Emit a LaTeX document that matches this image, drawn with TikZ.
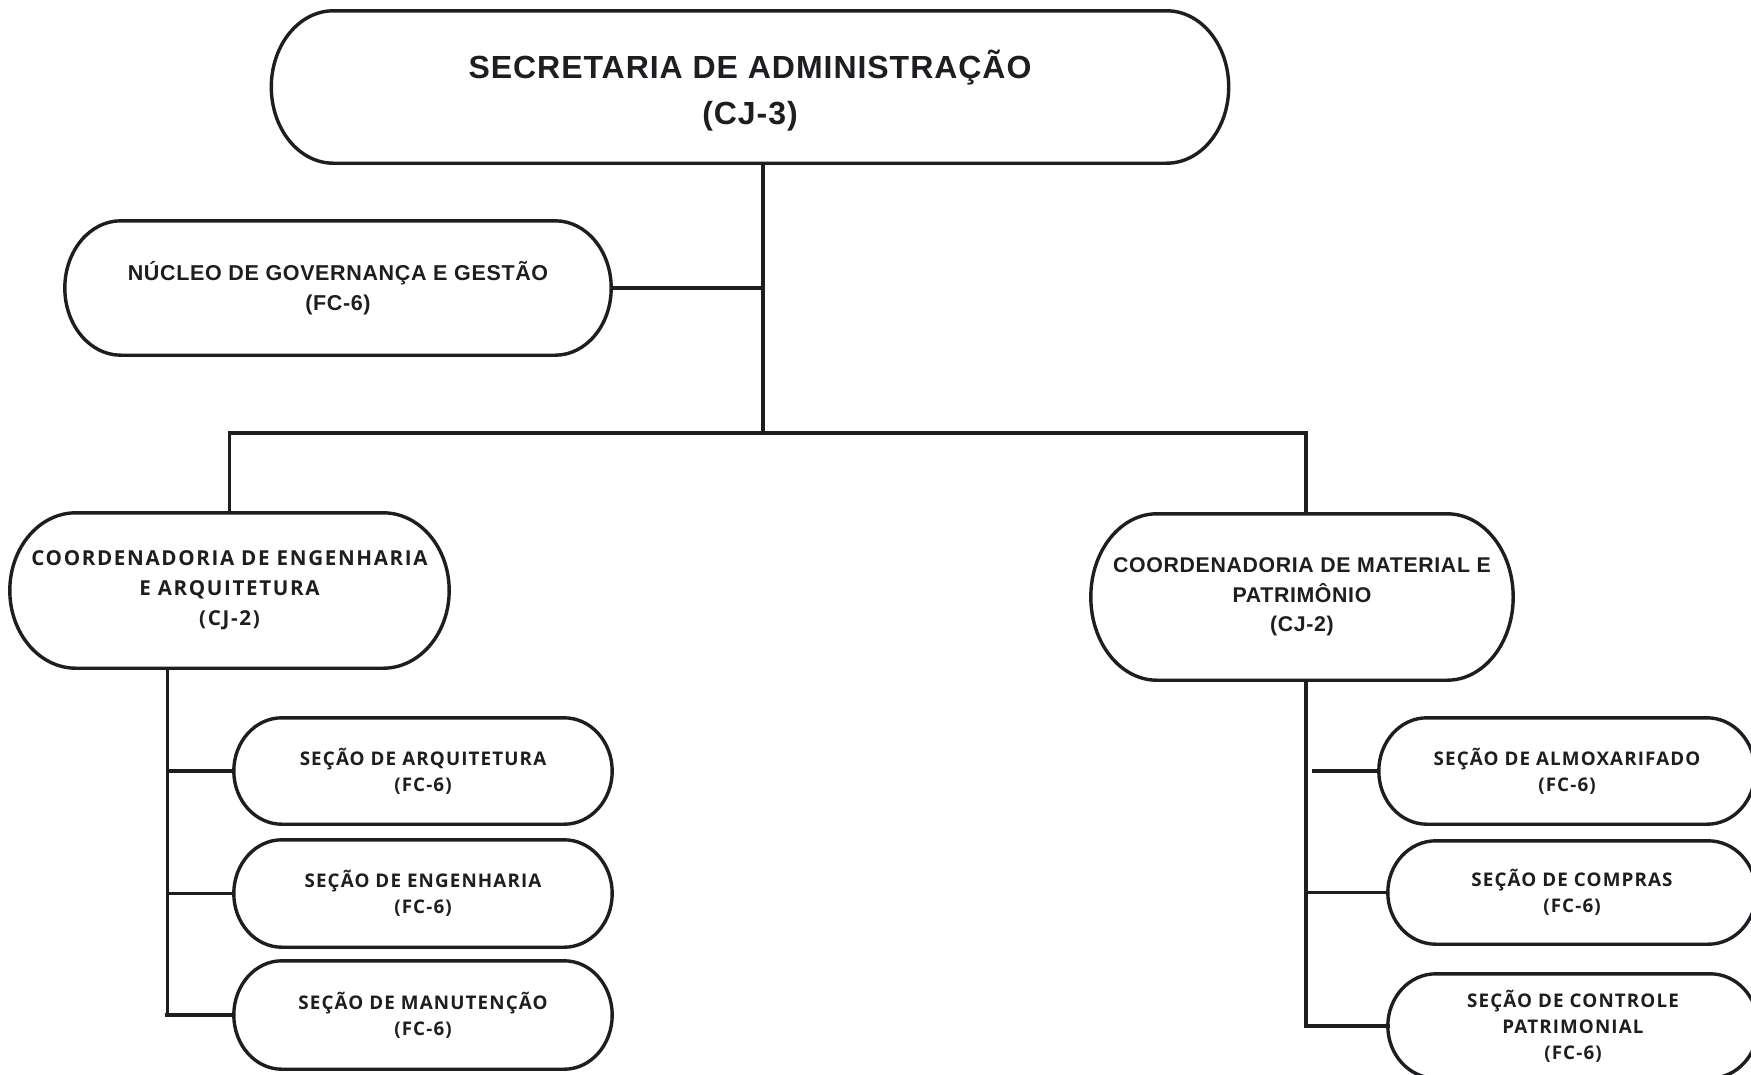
\documentclass[tikz,border=0pt]{standalone}
\usepackage{fontspec}
\setmainfont{Open Sans}
\newfontfamily\wideb[LetterSpace=8]{Open Sans}
\newfontfamily\secb[LetterSpace=6]{Open Sans}
\newfontfamily\narrowb[LetterSpace=3]{Liberation Sans}
\usetikzlibrary{calc}
\definecolor{ink}{HTML}{1E1E22}
\newcommand\pillout[2]{%
  \draw[boxline] let \p1=(#1.north west), \p2=(#1.south east), \n1={(\y1-\y2)/2} in
   ({\x1+#2pt},\y1) -- ({\x2-#2pt},\y1)
   arc[start angle=90,end angle=-90,x radius=#2pt,y radius=\n1]
   -- ({\x1+#2pt},\y2)
   arc[start angle=270,end angle=90,x radius=#2pt,y radius=\n1] -- cycle;}
\begin{document}
\begin{tikzpicture}[x=1pt,y=1pt,
  box/.style={draw=none, rectangle, inner sep=0pt, align=center, text=ink},
  boxline/.style={draw=ink, line width=3.4pt},
  link/.style={draw=ink, line width=3.4pt},
  topfont/.style={font=\narrowb\bfseries\fontsize{32}{46}\selectfont},
  narrowfont/.style={font=\narrowb\bfseries\fontsize{21.5}{30}\selectfont},
  cfont/.style={font=\wideb\bfseries\fontsize{20.6}{30}\selectfont},
  sfont/.style={font=\secb\bfseries\fontsize{18.8}{26}\selectfont}]
\useasboundingbox (0,0) rectangle (1751,-1074);
\clip (0,0) rectangle (1751,-1074);
\fill[white] (0,0) rectangle (1751,-1074);

% nodes
\node[box, minimum width=957, minimum height=152] (top) at (750,-87) {};
\node[box, topfont, anchor=center] (toptext) at (750,-91) {SECRETARIA DE ADMINISTRAÇÃO\\(CJ-3)};
\node[box, narrowfont, minimum width=546, minimum height=134] (nuc) at (338,-288) {NÚCLEO DE GOVERNANÇA E GESTÃO\\(FC-6)};
\node[box, cfont, minimum width=439, minimum height=155] (ceng) at (229.5,-590.5) {COORDENADORIA DE ENGENHARIA\\E ARQUITETURA\\(CJ-2)};
\node[box, font=\narrowb\bfseries\fontsize{21.3}{29.5}\selectfont, minimum width=422, minimum height=166] (cmat) at (1302,-597) {COORDENADORIA DE MATERIAL E\\PATRIMÔNIO\\(CJ-2)};

\node[box, sfont, minimum width=378, minimum height=106] (s1) at (423,-771) {SEÇÃO DE ARQUITETURA\\(FC-6)};
\node[box, sfont, minimum width=378, minimum height=107] (s2) at (423,-893.5) {SEÇÃO DE ENGENHARIA\\(FC-6)};
\node[box, sfont, minimum width=378, minimum height=108] (s3) at (423,-1015) {SEÇÃO DE MANUTENÇÃO\\(FC-6)};

\node[box, sfont, minimum width=376, minimum height=106] (r1) at (1567,-771) {SEÇÃO DE ALMOXARIFADO\\(FC-6)};
\node[box, sfont, minimum width=368, minimum height=103] (r2) at (1572,-892.5) {SEÇÃO DE COMPRAS\\(FC-6)};
\node[box, sfont, minimum width=370, minimum height=104] (r3) at (1573,-1026) {SEÇÃO DE CONTROLE\\PATRIMONIAL\\(FC-6)};

% outlines
\pillout{top}{62}
\pillout{nuc}{56}
\pillout{ceng}{66}
\pillout{cmat}{66}
\pillout{s1}{48}
\pillout{s2}{48}
\pillout{s3}{48}
\pillout{r1}{48}
\pillout{r2}{48}
\pillout{r3}{48}

% junctions
\coordinate (jn) at (763,-288);
\coordinate (jm) at (763,-433);
\coordinate (jl) at (229.5,-433);
\coordinate (jr) at (1306,-433);
\coordinate (lt) at (167.5,-1013);
\coordinate (rt) at (1306,-1024);

% connectors
\draw[link] (jm |- top.south) -- (jm);
\draw[link] (nuc.east) -- (jn);
\draw[link, line cap=rect] (jl) -- (jr);
\draw[link] (jl) -- (ceng.north);
\draw[link] (jr) -- (jr |- cmat.north);
\draw[link] (lt |- ceng.south) -- (lt);
\draw[link] (lt |- s1.west) -- (s1.west);
\draw[link] (lt |- s2.west) -- (s2.west);
\draw[link] ([xshift=-3pt]lt |- s3.west) -- (s3.west);
\draw[link] (rt |- cmat.south) -- (rt);
\draw[link] ([xshift=6pt]rt |- r1.west) -- (r1.west);
\draw[link] (rt |- r2.west) -- (r2.west);
\draw[link, line cap=rect] (rt |- r3.west) -- (r3.west);
\end{tikzpicture}
\end{document}
